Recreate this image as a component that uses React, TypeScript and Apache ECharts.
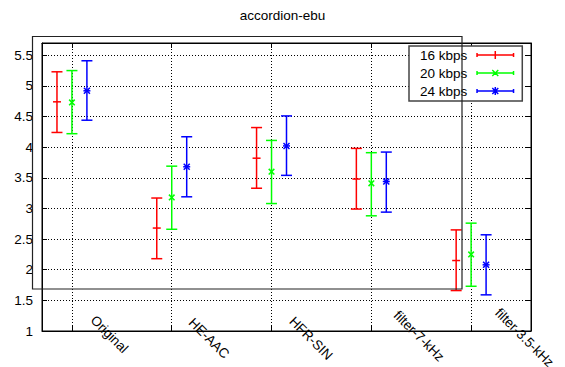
import React, { useEffect, useRef } from 'react';
import * as echarts from 'echarts';

const title = 'accordion-ebu';
const categories = ['Original', 'HE-AAC', 'HFR-SIN', 'filter-7-kHz', 'filter-3.5-kHz'];
const categoryPositions = [1, 2, 3, 4, 5];
const seriesNames = ['16 kbps', '20 kbps', '24 kbps'];

const mean16 = [4.74, 2.68, 3.82, 3.48, 2.15];
const low16 = [4.24, 2.18, 3.33, 2.99, 1.66];
const high16 = [5.23, 3.17, 4.32, 3.98, 2.65];

const mean20 = [4.73, 3.18, 3.6, 3.41, 2.25];
const low20 = [4.22, 2.66, 3.08, 2.88, 1.73];
const high20 = [5.25, 3.69, 4.11, 3.91, 2.76];

const mean24 = [4.92, 3.68, 4.02, 3.44, 2.08];
const low24 = [4.44, 3.19, 3.54, 2.94, 1.59];
const high24 = [5.41, 4.17, 4.51, 3.92, 2.57];

const yTicks = [1, 1.5, 2, 2.5, 3, 3.5, 4, 4.5, 5, 5.5];
const yTickLabels = ['1', '1.5', '2', '2.5', '3', '3.5', '4', '4.5', '5', '5.5'];

const FONT = '"Liberation Sans", Arial, Helvetica, sans-serif';
const FS = 13.5;
const colors = ['#ff0000', '#00ff00', '#0000ff'];
const markers = ['plus', 'cross', 'star'];
const offsets = [-0.15, 0, 0.15];

const iconBase =
  'M0,4.25H38V5.75H0Z M0,3H1.5V7H0Z M36.5,3H38V7H36.5Z ';
const iconPlus = 'M18.25,1H19.75V9H18.25Z';
const iconCross =
  'M15.5,2.5L16.5,1.5L22.5,7.5L21.5,8.5Z M21.5,1.5L22.5,2.5L16.5,8.5L15.5,7.5Z';
const legendIcons = [
  'path://' + iconBase + iconPlus,
  'path://' + iconBase + iconCross,
  'path://' + iconBase + iconCross + ' ' + iconPlus,
];

// gnuplot-like placement of the -45° rotated x labels (depends on label length)
const X_LABEL_MARGIN = -28;
function xLabelRich() {
  const rich: Record<string, any> = {};
  const k = Math.SQRT1_2;
  categories.forEach((c, i) => {
    const n = c.length;
    const dx = 21 + 0.9 * (n - 8);
    const dy = -13.2 - 1.2 * (n - 8);
    const sum = dx / k;
    const diff = (dy - X_LABEL_MARGIN) / k;
    const a = (sum + diff) / 2;
    const cc = (sum - diff) / 2;
    rich['r' + i] = {
      fontSize: FS,
      fontFamily: FONT,
      color: '#000',
      padding: [Math.max(0, -2 * cc), 0, Math.max(0, 2 * cc), Math.max(0, a)],
    };
  });
  return rich;
}

function makeRenderItem(marker: string, color: string) {
  return (params: any, api: any) => {
    const x = api.value(0);
    const m = api.value(1);
    const lo = api.value(2);
    const hi = api.value(3);
    const pm = api.coord([x, m]);
    const pl = api.coord([x, lo]);
    const ph = api.coord([x, hi]);
    const style = { stroke: color, lineWidth: 1.5, fill: 'none' };
    const cap = 5.5;
    const children: any[] = [
      { type: 'line', shape: { x1: pl[0], y1: pl[1], x2: ph[0], y2: ph[1] }, style },
      { type: 'line', shape: { x1: pl[0] - cap, y1: pl[1], x2: pl[0] + cap, y2: pl[1] }, style },
      { type: 'line', shape: { x1: ph[0] - cap, y1: ph[1], x2: ph[0] + cap, y2: ph[1] }, style },
    ];
    if (marker === 'plus') {
      children.push({ type: 'line', shape: { x1: pm[0] - 4, y1: pm[1], x2: pm[0] + 4, y2: pm[1] }, style });
    } else if (marker === 'cross') {
      const d = 2.8;
      children.push({ type: 'line', shape: { x1: pm[0] - d, y1: pm[1] - d, x2: pm[0] + d, y2: pm[1] + d }, style });
      children.push({ type: 'line', shape: { x1: pm[0] - d, y1: pm[1] + d, x2: pm[0] + d, y2: pm[1] - d }, style });
    } else {
      const d = 3;
      children.push({ type: 'line', shape: { x1: pm[0] - d, y1: pm[1] - d, x2: pm[0] + d, y2: pm[1] + d }, style });
      children.push({ type: 'line', shape: { x1: pm[0] - d, y1: pm[1] + d, x2: pm[0] + d, y2: pm[1] - d }, style });
      children.push({ type: 'line', shape: { x1: pm[0] - 3.5, y1: pm[1], x2: pm[0] + 3.5, y2: pm[1] }, style });
    }
    return { type: 'group', children };
  };
}

export default function App() {
  const ref = useRef<HTMLDivElement>(null);
  useEffect(() => {
    if (!ref.current) return;
    const chart = echarts.init(ref.current, null, { renderer: 'svg' });
    const allMeans = [mean16, mean20, mean24];
    const allLows = [low16, low20, low24];
    const allHighs = [high16, high20, high24];

    const series = seriesNames.map((name, s) => ({
      type: 'custom',
      name,
      itemStyle: { color: colors[s] },
      renderItem: makeRenderItem(markers[s], colors[s]),
      encode: { x: 0, y: [1, 2, 3] },
      data: categoryPositions.map((p, i) => [p + offsets[s], allMeans[s][i], allLows[s][i], allHighs[s][i]]),
      z: 3,
    }));

    const dotted = { color: '#000', width: 1, type: [1, 2] as any };
    const tickStyle = { show: true, inside: true, length: 5, lineStyle: { color: '#000', width: 1 } };

    chart.setOption({
      animation: false,
      backgroundColor: '#fff',
      title: {
        text: title,
        left: 'center',
        top: 8,
        padding: [0, 0, 0, 8],
        textStyle: { fontSize: FS, fontWeight: 'normal', color: '#000', fontFamily: FONT },
      },
      grid: {
        left: 42,
        right: 34,
        top: 43,
        bottom: 36,
        containLabel: false,
        outerBoundsMode: 'none',
        show: true,
        borderColor: '#000',
        borderWidth: 1,
        backgroundColor: 'transparent',
      },
      legend: {
        orient: 'vertical',
        left: 409,
        top: 46,
        align: 'right',
        itemWidth: 38,
        itemHeight: 8,
        itemGap: 4,
        symbolKeepAspect: true,
        padding: [2, 8, 3, 11],
        backgroundColor: '#fff',
        borderColor: '#444',
        borderWidth: 1.5,
        borderRadius: 0,
        data: seriesNames.map((n, s) => ({ name: n, icon: legendIcons[s] })),
        textStyle: { fontSize: FS, color: '#000', fontFamily: FONT, lineHeight: 14, padding: [0, 4, 0, 0] },
        selectedMode: false,
        z: 10,
      },
      xAxis: [
        {
          type: 'value',
          min: 0.7,
          max: 5.6,
          position: 'bottom',
          axisLine: { show: true, onZero: false, lineStyle: { color: '#000', width: 1 } },
          axisTick: { ...tickStyle, customValues: categoryPositions },
          axisLabel: {
            customValues: categoryPositions,
            formatter: (v: number) => {
              const i = Math.round(v) - 1;
              return categories[i] ? '{r' + i + '|' + categories[i] + '}' : '';
            },
            rich: xLabelRich(),
            rotate: -45,
            margin: X_LABEL_MARGIN,
            fontSize: FS,
            color: '#000',
            fontFamily: FONT,
            hideOverlap: false,
          },
          splitLine: { show: true, lineStyle: dotted },
        },
        {
          type: 'value',
          min: 0.7,
          max: 5.6,
          position: 'top',
          axisLine: { show: true, onZero: false, lineStyle: { color: '#000', width: 1 } },
          axisTick: { ...tickStyle, customValues: categoryPositions },
          axisLabel: { show: false },
          splitLine: { show: false },
        },
      ],
      yAxis: [
        {
          type: 'value',
          min: 1,
          max: 5.7,
          position: 'left',
          axisLine: { show: true, onZero: false, lineStyle: { color: '#000', width: 1 } },
          axisTick: { ...tickStyle, customValues: yTicks },
          axisLabel: {
            customValues: yTicks,
            formatter: (v: number) => {
              const i = yTicks.findIndex((t) => Math.abs(t - v) < 1e-6);
              return i >= 0 ? yTickLabels[i] : '';
            },
            margin: 9,
            fontSize: FS,
            color: '#000',
            fontFamily: FONT,
          },
          splitLine: { show: true, lineStyle: dotted },
        },
        {
          type: 'value',
          min: 1,
          max: 5.7,
          position: 'right',
          axisLine: { show: true, onZero: false, lineStyle: { color: '#000', width: 1 } },
          axisTick: { ...tickStyle, customValues: yTicks },
          axisLabel: { show: false },
          splitLine: { show: false },
        },
      ],
      graphic: [
        {
          type: 'rect',
          z: 100,
          silent: true,
          shape: { x: 32.5, y: 36.5, width: 429.5, height: 252.5 },
          style: { fill: 'none', stroke: '#222', lineWidth: 1.2 },
        },
      ],
      series,
    });
    return () => chart.dispose();
  }, []);
  return (
    <div
      ref={ref}
      style={{ position: 'absolute', left: 0, top: 0, width: 565, height: 367 }}
    />
  );
}
